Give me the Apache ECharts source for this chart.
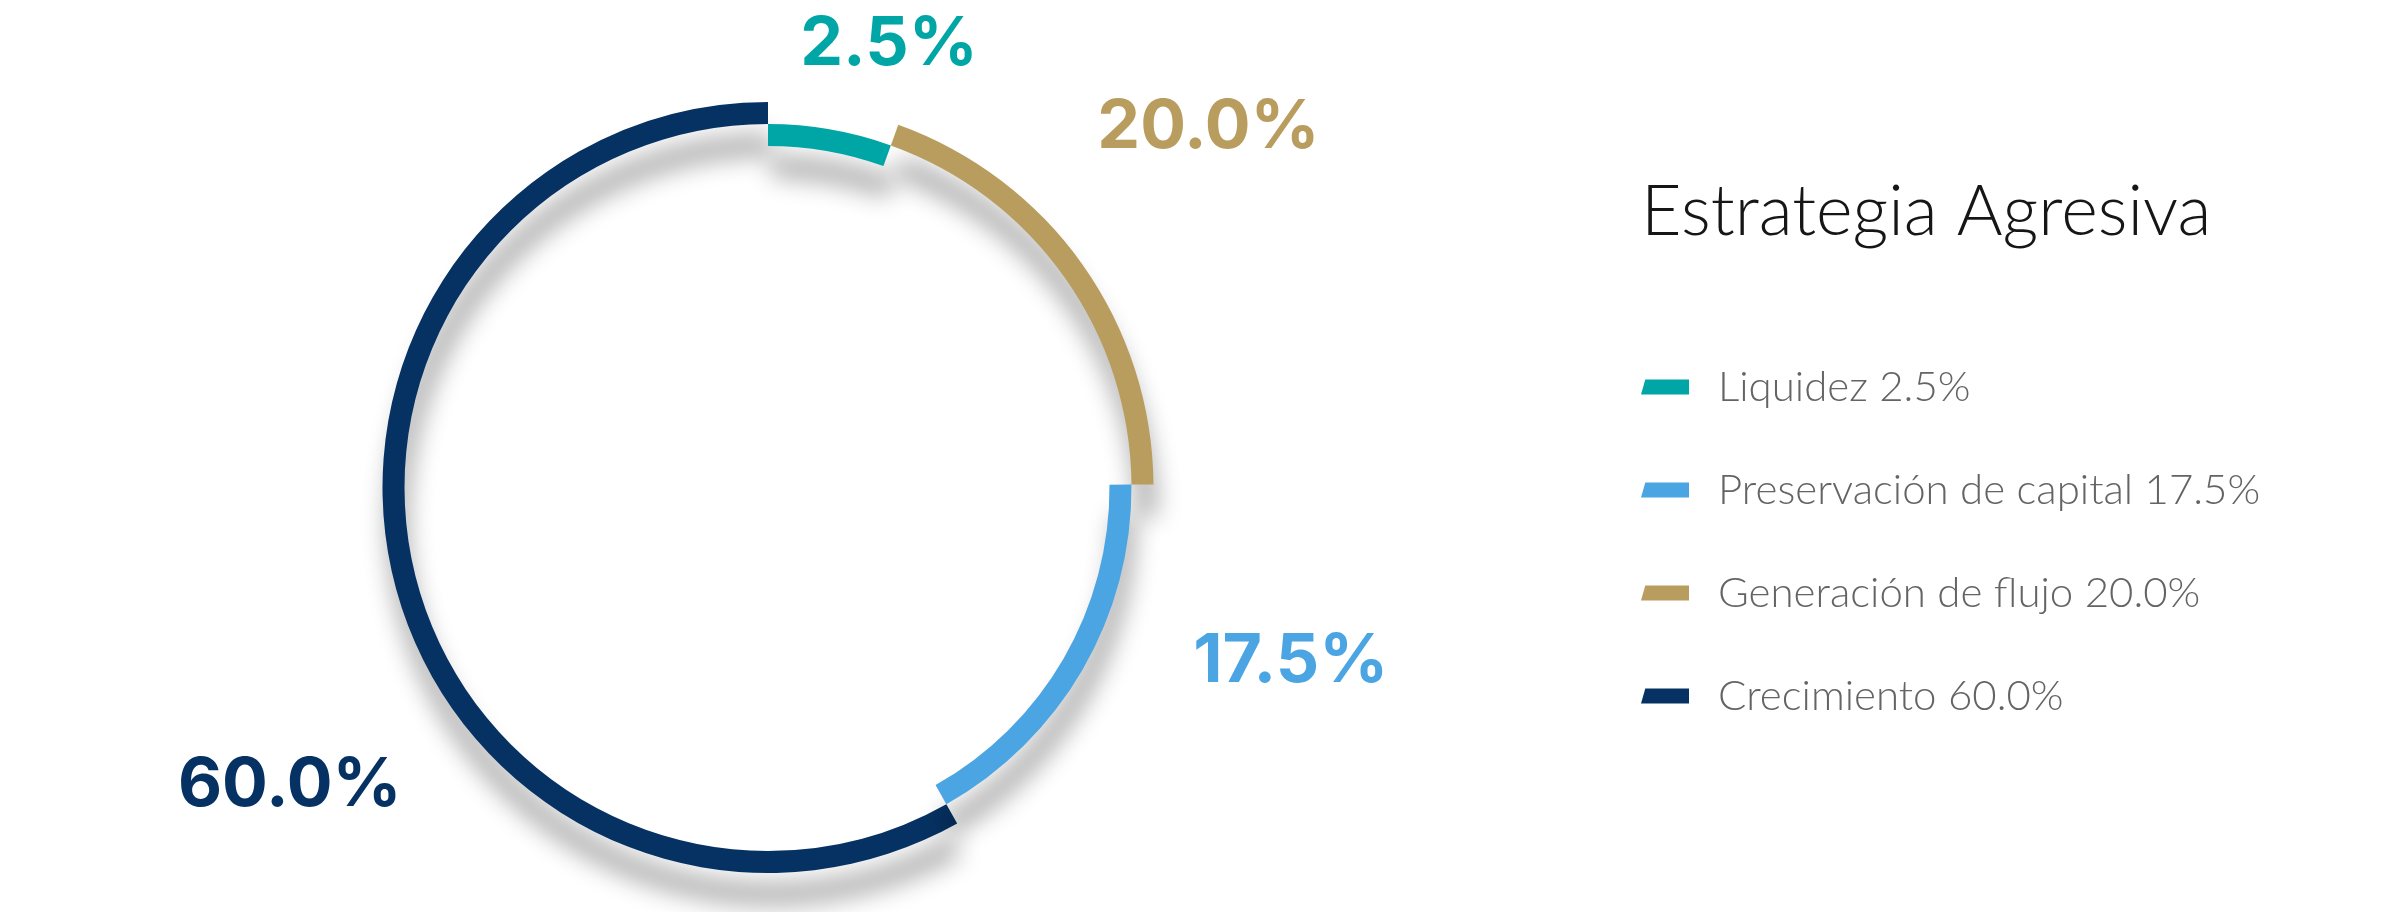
<!DOCTYPE html>
<html>
<head>
<meta charset="utf-8">
<script src="https://cdn.jsdelivr.net/npm/echarts@6/dist/echarts.min.js"></script>
<style>
html,body{margin:0;padding:0;background:#ffffff;}
#chart{width:2400px;height:912px;}
</style>
</head>
<body>
<div id="chart"></div>
<script>
// ---- data ----
const categories = ['Liquidez', 'Generación de flujo', 'Preservación de capital', 'Crecimiento'];
const values = [2.5, 20.0, 17.5, 60.0];
const legendOrder = ['Liquidez', 'Preservación de capital', 'Generación de flujo', 'Crecimiento'];
const chartTitle = 'Estrategia Agresiva';

// ---- styles ----
const colors = {
  'Liquidez': '#00A5A6',
  'Generación de flujo': '#B89D5F',
  'Preservación de capital': '#4BA5E3',
  'Crecimiento': '#063263'
};
const innerRing = {
  'Liquidez': true,
  'Generación de flujo': false,
  'Preservación de capital': true,
  'Crecimiento': false
};
// label guide lengths [length, length2] used to place the outside labels
const labelGuide = {
  'Liquidez': [86.5, -50],
  'Generación de flujo': [237, -183.4],
  'Preservación de capital': [-15.5, 119],
  'Crecimiento': [789.3, -775]
};

function fmt(v) { return v.toFixed(1) + '%'; }

function ringData(isInner) {
  return categories.map(function (name, i) {
    const on = innerRing[name] === isInner;
    const g = labelGuide[name];
    return {
      name: name,
      value: values[i],
      itemStyle: on ? { color: colors[name] }
                    : { color: 'rgba(0,0,0,0)', shadowBlur: 0, shadowColor: 'rgba(0,0,0,0)' },
      label: on ? { show: true, color: colors[name] } : { show: false },
      labelLine: { show: false, length: g[0], length2: g[1] }
    };
  });
}

function ringSeries(isInner, radius) {
  return {
    type: 'pie',
    center: [768, 487.5],
    radius: radius,
    startAngle: 90,
    clockwise: true,
    minAngle: 19.75,
    avoidLabelOverlap: false,
    silent: true,
    animation: false,
    emphasis: { disabled: true },
    itemStyle: {
      borderWidth: 0,
      shadowBlur: 24,
      shadowColor: 'rgba(0,0,0,0.32)',
      shadowOffsetX: 4,
      shadowOffsetY: 32
    },
    label: {
      position: 'outside',
      formatter: function (p) { return fmt(p.value); },
      fontFamily: 'Inter',
      fontWeight: 700,
      fontSize: 68,
      distanceToLabelLine: 5
    },
    data: ringData(isInner)
  };
}

const chart = echarts.init(document.getElementById('chart'));
chart.setOption({
  backgroundColor: '#ffffff',
  animation: false,
  title: {
    text: chartTitle,
    left: 1641,
    top: 177,
    padding: 0,
    textStyle: {
      fontFamily: 'Lato',
      fontWeight: 300,
      fontSize: 70,
      lineHeight: 70,
      color: '#161616'
    }
  },
  legend: {
    orient: 'vertical',
    left: 1641,
    top: 366,
    padding: 0,
    itemGap: 61,
    itemWidth: 48,
    itemHeight: 15,
    icon: 'path://M4.3,0L48,0L48,15L0,15Z',
    selectedMode: false,
    data: legendOrder.map(function (n) {
      return { name: n, itemStyle: { color: colors[n], borderWidth: 0, shadowBlur: 0, shadowColor: 'rgba(0,0,0,0)' } };
    }),
    formatter: function (n) { return n + ' ' + fmt(values[categories.indexOf(n)]); },
    textStyle: {
      fontFamily: 'Lato',
      fontWeight: 300,
      fontSize: 42,
      lineHeight: 42,
      color: '#646464',
      padding: [0, 0, 0, 24]
    }
  },
  series: [
    ringSeries(false, [363.5, 385.5]),
    ringSeries(true, [341.5, 363.5])
  ]
});
</script>
</body>
</html>
